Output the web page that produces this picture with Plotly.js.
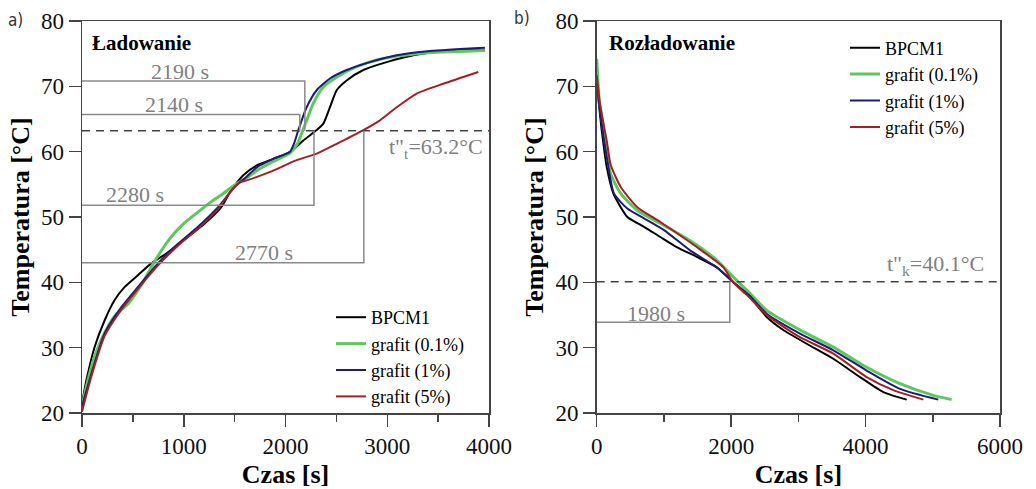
<!DOCTYPE html>
<html>
<head>
<meta charset="utf-8">
<script src="https://cdn.plot.ly/plotly-3.0.1.min.js"></script>
<style>html,body{margin:0;padding:0;background:#fff;}#chart{width:1036px;height:489px;}</style>
</head>
<body>
<div id="chart"></div>
<script>
// ---------- DATA ----------
const seriesNames = ['BPCM1', 'grafit (0.1%)', 'grafit (1%)', 'grafit (5%)'];

// (a) Ładowanie – charging
const chargeBPCM1_t = [0, 43, 124, 223, 321, 420, 550, 681, 845, 1042, 1206, 1369, 1455, 1585, 1717, 1880, 2044, 2175, 2306, 2372, 2437, 2503, 2601, 2765, 2994, 3256, 3584, 3960];
const chargeBPCM1_T = [21.5, 25.0, 30.1, 34.2, 37.3, 39.3, 41.1, 42.9, 44.6, 47.0, 49.0, 51.5, 53.8, 56.4, 57.9, 58.9, 59.95, 61.7, 63.3, 64.3, 66.8, 69.4, 70.9, 72.5, 73.7, 74.75, 75.4, 75.6];

const chargeG01_t = [0, 50, 120, 220, 330, 452, 583, 714, 812, 900, 1000, 1127, 1258, 1389, 1500, 1620, 1717, 1880, 2044, 2120, 2159, 2208, 2273, 2372, 2503, 2700, 2961, 3289, 3600, 3960];
const chargeG01_T = [21.0, 24.5, 28.5, 32.2, 35.0, 36.7, 39.6, 43.2, 45.6, 47.4, 49.0, 50.6, 52.2, 53.6, 54.9, 56.0, 57.1, 58.5, 59.8, 61.3, 62.8, 64.8, 67.4, 69.9, 71.4, 73.0, 74.25, 75.0, 75.3, 75.5];

const chargeG1_t = [0, 92, 223, 387, 550, 747, 943, 1140, 1337, 1500, 1620, 1717, 1880, 2044, 2090, 2126, 2208, 2306, 2437, 2601, 2830, 3093, 3420, 3960];
const chargeG1_T = [21.0, 26.0, 32.2, 36.2, 39.3, 42.9, 45.9, 48.5, 51.5, 54.6, 56.2, 57.6, 58.9, 60.0, 61.5, 63.3, 66.8, 69.4, 71.2, 72.5, 73.7, 74.75, 75.4, 75.9];

const chargeG5_t = [0, 92, 223, 387, 550, 747, 943, 1140, 1337, 1455, 1553, 1619, 1848, 2110, 2306, 2503, 2765, 2929, 3093, 3289, 3551, 3895];
const chargeG5_T = [20.2, 25.6, 31.8, 35.8, 39.0, 42.6, 45.6, 48.2, 51.2, 53.8, 55.3, 55.6, 56.9, 58.7, 59.7, 61.2, 63.3, 64.8, 66.8, 68.9, 70.4, 72.2];

// (b) Rozładowanie – discharging
const dischBPCM1_t = [0, 40, 74, 149, 247, 306, 455, 704, 952, 1190, 1488, 1785, 2032, 2281, 2529, 2776, 3124, 3520, 3917, 4264, 4612];
const dischBPCM1_T = [70.6, 66.5, 63.3, 57.7, 53.6, 52.4, 50.0, 48.5, 46.9, 45.4, 43.9, 42.3, 40.05, 37.75, 34.7, 32.7, 30.6, 28.3, 25.5, 23.2, 22.05];

const dischG01_t = [0, 20, 40, 74, 149, 208, 357, 604, 952, 1388, 1785, 2083, 2281, 2529, 3025, 3520, 4017, 4512, 5008, 5281];
const dischG01_T = [74.2, 70.5, 67.5, 65.3, 59.8, 56.6, 53.6, 51.0, 49.0, 46.4, 43.4, 40.3, 38.3, 35.7, 32.7, 30.1, 27.0, 24.5, 22.7, 22.05];

const dischG1_t = [0, 40, 74, 149, 257, 455, 704, 1001, 1388, 1785, 2032, 2281, 2529, 3025, 3520, 4017, 4512, 5082];
const dischG1_T = [71.0, 67.0, 64.3, 59.2, 53.6, 51.3, 49.8, 48.0, 44.9, 42.3, 40.0, 37.9, 35.2, 32.15, 29.6, 26.5, 23.7, 22.05];

const dischG5_t = [0, 40, 74, 149, 208, 357, 604, 952, 1488, 1884, 2032, 2281, 2529, 3025, 3520, 4017, 4413, 4859];
const dischG5_T = [71.7, 68.0, 65.8, 61.7, 58.0, 54.6, 51.5, 49.2, 45.4, 42.3, 40.0, 37.6, 35.0, 31.6, 29.1, 25.5, 23.5, 22.05];

// reference levels and read-off times
const chargeLevel = 63.2;
const chargeTimes = [2190, 2140, 2280, 2770];
const chargeStartT = [70.8, 65.7, 51.8, 43.0];
const dischLevel = 40.1;
const dischTimes = [1980];
const dischStartT = [33.9];

// ---------- STYLE ----------
const colors = ['#000000', '#5cc85c', '#1c1c78', '#a51f22'];
const widths = [2, 3, 2, 2];
const serif = 'Liberation Serif';
const grey = '#7f7f7f';
const axisCol = '#444';

const chargeData = [[chargeBPCM1_t, chargeBPCM1_T], [chargeG01_t, chargeG01_T], [chargeG1_t, chargeG1_T], [chargeG5_t, chargeG5_T]];
const dischData = [[dischBPCM1_t, dischBPCM1_T], [dischG01_t, dischG01_T], [dischG1_t, dischG1_T], [dischG5_t, dischG5_T]];

const traces = [];
chargeData.forEach((d, i) => traces.push({
  x: d[0], y: d[1], type: 'scatter', mode: 'lines', name: seriesNames[i],
  line: {color: colors[i], width: widths[i], shape: 'spline', smoothing: 0.6},
  xaxis: 'x', yaxis: 'y', legend: 'legend'
}));
dischData.forEach((d, i) => traces.push({
  x: d[0], y: d[1], type: 'scatter', mode: 'lines', name: seriesNames[i],
  line: {color: colors[i], width: widths[i], shape: 'spline', smoothing: 0.6},
  xaxis: 'x2', yaxis: 'y2', legend: 'legend2'
}));

function xAx(domain, range, dtick, minorDtick) {
  return {
    domain: domain, range: range, dtick: dtick, tick0: 0, ticks: 'outside', ticklen: 12, tickwidth: 1.5, tickcolor: axisCol,
    showline: true, linecolor: axisCol, linewidth: 1.5, mirror: true, showgrid: false, zeroline: false,
    minor: {dtick: minorDtick, tick0: 0, ticks: 'outside', ticklen: 7, tickwidth: 1.5, tickcolor: axisCol, showgrid: false},
    tickfont: {family: serif, size: 23, color: '#111'},
    title: {text: '<b>Czas [s]</b>', font: {family: serif, size: 26, color: '#000'}, standoff: 11}
  };
}
function yAx(anchor) {
  return {
    anchor: anchor, range: [20, 80], dtick: 10, tick0: 20, ticks: 'outside', ticklen: 12, tickwidth: 1.5, tickcolor: axisCol,
    showline: true, linecolor: axisCol, linewidth: 1.5, mirror: true, showgrid: false, zeroline: false,
    tickfont: {family: serif, size: 23, color: '#111'},
    title: {text: '<b>Temperatura [°C]</b>', font: {family: serif, size: 26, color: '#000'}, standoff: 4}
  };
}

const shapes = [];
const annotations = [];
shapes.push({type: 'line', xref: 'x', yref: 'y', x0: 0, x1: 4000, y0: chargeLevel, y1: chargeLevel,
  line: {color: '#444', width: 1.5, dash: '8px,6px'}});
chargeTimes.forEach((t, i) => {
  shapes.push({type: 'path', xref: 'x', yref: 'y',
    path: `M 0,${chargeStartT[i]} L ${t},${chargeStartT[i]} L ${t},${chargeLevel}`,
    line: {color: '#8a8a8a', width: 1.5}});
});
shapes.push({type: 'line', xref: 'x2', yref: 'y2', x0: 0, x1: 6000, y0: dischLevel, y1: dischLevel,
  line: {color: '#444', width: 1.5, dash: '8px,6px'}});
dischTimes.forEach((t, i) => {
  shapes.push({type: 'path', xref: 'x2', yref: 'y2',
    path: `M 0,${dischStartT[i]} L ${t},${dischStartT[i]} L ${t},${dischLevel}`,
    line: {color: '#8a8a8a', width: 1.5}});
});

const lblFont = {family: serif, size: 22, color: grey};
const chargeLblPos = [[963, 72.3], [904, 67.2], [521, 53.5], [1789, 44.6]];
chargeTimes.forEach((t, i) => annotations.push({xref: 'x', yref: 'y', x: chargeLblPos[i][0], y: chargeLblPos[i][1],
  text: t + ' s', showarrow: false, font: lblFont, xanchor: 'center', yanchor: 'middle'}));
annotations.push({xref: 'x2', yref: 'y2', x: 885, y: 35.3, text: dischTimes[0] + ' s', showarrow: false, font: lblFont, xanchor: 'center', yanchor: 'middle'});
annotations.push({xref: 'x', yref: 'y', x: 3960, y: 60.6, text: 't"<sub>t</sub>=' + chargeLevel + '°C', showarrow: false, font: lblFont, xanchor: 'right', yanchor: 'middle'});
annotations.push({xref: 'x2', yref: 'y2', x: 5790, y: 42.6, text: 't"<sub>k</sub>=' + dischLevel + '°C', showarrow: false, font: lblFont, xanchor: 'right', yanchor: 'middle'});
annotations.push({xref: 'x', yref: 'y', x: 79, y: 76.6, text: '<b>Ładowanie</b>', showarrow: false, font: {family: serif, size: 21, color: '#000'}, xanchor: 'left', yanchor: 'middle'});
annotations.push({xref: 'x2', yref: 'y2', x: 150, y: 76.6, text: '<b>Rozładowanie</b>', showarrow: false, font: {family: serif, size: 21, color: '#000'}, xanchor: 'left', yanchor: 'middle'});
const letterFont = {family: 'DejaVu Sans Condensed, DejaVu Sans, sans-serif', size: 17, color: '#333'};
annotations.push({xref: 'paper', yref: 'paper', x: (6 - 82) / 918, y: (413 - 20) / 392, text: 'a)', showarrow: false, font: letterFont, xanchor: 'left', yanchor: 'middle'});
annotations.push({xref: 'paper', yref: 'paper', x: (512 - 82) / 918, y: (413 - 18) / 392, text: 'b)', showarrow: false, font: letterFont, xanchor: 'left', yanchor: 'middle'});

const legFont = {family: serif, size: 18, color: '#000'};
const layout = {
  width: 1036, height: 489,
  margin: {l: 82, r: 36, t: 21, b: 76},
  paper_bgcolor: '#fff', plot_bgcolor: '#fff',
  font: {family: serif},
  showlegend: true,
  xaxis: xAx([0, 0.44336], [0, 4000], 1000, 500),
  yaxis: yAx('x'),
  xaxis2: Object.assign(xAx([0.5607, 1], [0, 6000], 2000, 1000), {anchor: 'y2'}),
  yaxis2: yAx('x2'),
  legend: {x: (331 - 82) / 918, y: (413 - 299) / 392, xanchor: 'left', yanchor: 'top', font: legFont, bgcolor: 'rgba(0,0,0,0)', borderwidth: 0, tracegroupgap: 0, itemwidth: 30},
  legend2: {x: (845 - 82) / 918, y: (413 - 29.5) / 392, xanchor: 'left', yanchor: 'top', font: legFont, bgcolor: 'rgba(0,0,0,0)', borderwidth: 0, tracegroupgap: 0, itemwidth: 30},
  shapes: shapes,
  annotations: annotations
};
layout.xaxis.anchor = 'y';
layout.yaxis2.anchor = 'x2';

Plotly.newPlot('chart', traces, layout, {displayModeBar: false, staticPlot: true});
</script>
</body>
</html>
